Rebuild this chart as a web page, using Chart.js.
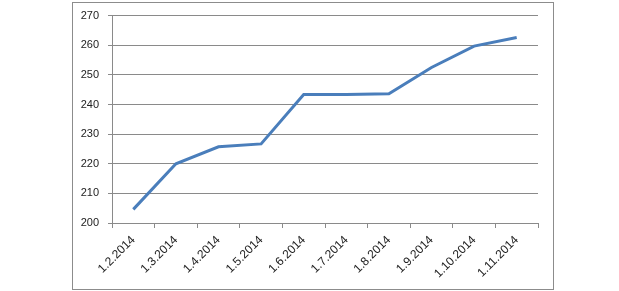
<!DOCTYPE html>
<html>
<head>
<meta charset="utf-8">
<script src="https://cdn.jsdelivr.net/npm/chart.js@4"></script>
<style>
  html, body { margin: 0; padding: 0; background: #fff; }
  #wrap { position: relative; width: 619px; height: 291px; }
  #frame { position: absolute; left: 72px; top: 2px; width: 480px; height: 286px; border: 1px solid #8c8c8c; }
  canvas { position: absolute; left: 0; top: 0; }
</style>
</head>
<body>
<div id="wrap">
  <div id="frame"></div>
  <canvas id="myChart" width="619" height="291"></canvas>
</div>
<script>
const dates = ['1.2.2014', '1.3.2014', '1.4.2014', '1.5.2014', '1.6.2014', '1.7.2014', '1.8.2014', '1.9.2014', '1.10.2014', '1.11.2014']
const values = [204.6, 220, 225.7, 226.7, 243.4, 243.4, 243.6, 252.5, 259.7, 262.6]
const yTicks = [200, 210, 220, 230, 240, 250, 260, 270]

const gridColor = '#8a8a8a'
const textColor = '#222'

const ctx = document.getElementById('myChart').getContext('2d')
const myChart = new Chart(ctx, {
    type: 'line',
    data: {
        labels: dates,
        datasets: [{
            data: values,
            borderColor: '#4a7ebb',
            borderWidth: 3,
            pointRadius: 0,
            tension: 0,
            fill: false
        }]
    },
    options: {
        responsive: false,
        animation: false,
        layout: { padding: { left: 72, right: 81, top: 15, bottom: 0 } },
        plugins: { legend: { display: false }, tooltip: { enabled: false } },
        scales: {
            x: {
                offset: true,
                grid: { offset: true, drawOnChartArea: false, drawTicks: true, tickLength: 5, color: gridColor },
                border: { color: gridColor },
                ticks: {
                    minRotation: 45, maxRotation: 45, padding: 5,
                    color: textColor, font: { family: 'Liberation Sans', size: 12 }
                },
                afterFit: function(scale) { scale.height = 68 }
            },
            y: {
                min: 200, max: 270,
                afterBuildTicks: function(scale) { scale.ticks = yTicks.map(v => ({ value: v })) },
                grid: { color: gridColor, tickLength: 4 },
                border: { color: gridColor },
                ticks: {
                    padding: 9, color: textColor,
                    font: { family: 'Liberation Sans', size: 11 }
                },
                afterFit: function(scale) { scale.width = 40 }
            }
        }
    }
})
</script>
</body>
</html>
